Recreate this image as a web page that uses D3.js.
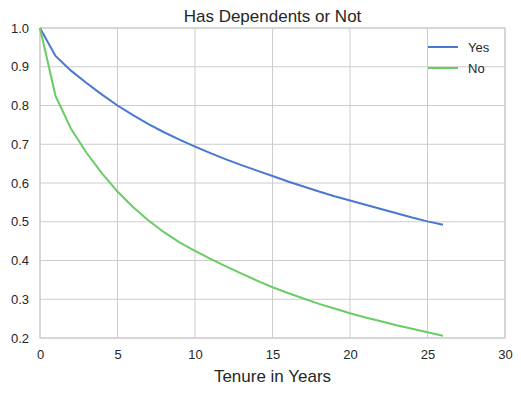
<!DOCTYPE html>
<html>
<head>
<meta charset="utf-8">
<script src="https://cdn.jsdelivr.net/npm/d3@7"></script>
<style>
body { margin: 0; background: #fff; }
text { font-family: "Liberation Sans", Arial, sans-serif; fill: #262626; }
</style>
</head>
<body>
<script>
// tenure values, years 0..26
var years = d3.range(0, 27);
var yesValues = [1.0, 0.928, 0.89, 0.858, 0.828, 0.80, 0.775, 0.752, 0.731, 0.712, 0.694,
	0.677, 0.661, 0.646, 0.632, 0.618, 0.604, 0.591, 0.578, 0.566, 0.555,
	0.544, 0.533, 0.522, 0.511, 0.501, 0.492];
var noValues = [1.0, 0.825, 0.74, 0.678, 0.625, 0.578, 0.538, 0.503, 0.473, 0.447, 0.425,
	0.404, 0.385, 0.366, 0.348, 0.331, 0.316, 0.302, 0.288, 0.276, 0.264,
	0.253, 0.243, 0.233, 0.224, 0.215, 0.206];
var seriesNames = ['Yes', 'No'];
var seriesColors = ['#4878cf', '#6acc65'];
var xTicks = [0, 5, 10, 15, 20, 25, 30];
var yTicks = [0.2, 0.3, 0.4, 0.5, 0.6, 0.7, 0.8, 0.9, 1.0];

var width = 521, height = 393;
var pLeft = 40, pRight = 505, pTop = 28, pBottom = 338;

var x = d3.scaleLinear().domain([0, 30]).range([pLeft, pRight]);
var y = d3.scaleLinear().domain([0.2, 1.0]).range([pBottom, pTop]);

var svg = d3.select('body').append('svg')
	.attr('width', width)
	.attr('height', height);

// grid
svg.append('g').selectAll('line')
	.data(xTicks)
	.enter().append('line')
		.attr('x1', function(d) { return x(d); })
		.attr('x2', function(d) { return x(d); })
		.attr('y1', pTop).attr('y2', pBottom)
		.attr('stroke', '#cccccc').attr('stroke-width', 1);

svg.append('g').selectAll('line')
	.data(yTicks)
	.enter().append('line')
		.attr('x1', pLeft).attr('x2', pRight)
		.attr('y1', function(d) { return y(d); })
		.attr('y2', function(d) { return y(d); })
		.attr('stroke', '#cccccc').attr('stroke-width', 1);

svg.append('rect')
	.attr('x', pLeft).attr('y', pTop)
	.attr('width', pRight - pLeft).attr('height', pBottom - pTop)
	.attr('fill', 'none').attr('stroke', '#cccccc').attr('stroke-width', 1.2);

// axes (labels only)
svg.append('g')
	.attr('transform', 'translate(0,' + pBottom + ')')
	.call(d3.axisBottom(x).tickValues(xTicks).tickSize(0).tickPadding(12).tickFormat(d3.format('d')));
svg.append('g')
	.attr('transform', 'translate(' + pLeft + ',0)')
	.call(d3.axisLeft(y).tickValues(yTicks).tickSize(0).tickPadding(11).tickFormat(d3.format('.1f')));
svg.selectAll('.domain').remove();
svg.selectAll('.tick text')
	.style('font-family', '"Liberation Sans", Arial, sans-serif')
	.style('font-size', '13px')
	.attr('fill', '#262626');

// lines
var line = d3.line()
	.x(function(d, i) { return x(years[i]); })
	.y(function(d) { return y(d); });

[yesValues, noValues].forEach(function(vals, i) {
	svg.append('path')
		.datum(vals)
		.attr('d', line)
		.attr('fill', 'none')
		.attr('stroke', seriesColors[i])
		.attr('stroke-width', 2);
});

// legend
var legend = svg.append('g').attr('transform', 'translate(428,47)');
seriesNames.forEach(function(name, i) {
	legend.append('line')
		.attr('x1', 0).attr('x2', 30)
		.attr('y1', i * 21).attr('y2', i * 21)
		.attr('stroke', seriesColors[i]).attr('stroke-width', 2);
	legend.append('text')
		.attr('x', 40).attr('y', i * 21 + 5)
		.style('font-size', '13px')
		.text(name);
});

// title & label
svg.append('text')
	.attr('x', (pLeft + pRight) / 2).attr('y', 22)
	.attr('text-anchor', 'middle')
	.style('font-size', '17px')
	.text('Has Dependents or Not');

svg.append('text')
	.attr('x', (pLeft + pRight) / 2).attr('y', 382)
	.attr('text-anchor', 'middle')
	.style('font-size', '17px')
	.text('Tenure in Years');
</script>
</body>
</html>
